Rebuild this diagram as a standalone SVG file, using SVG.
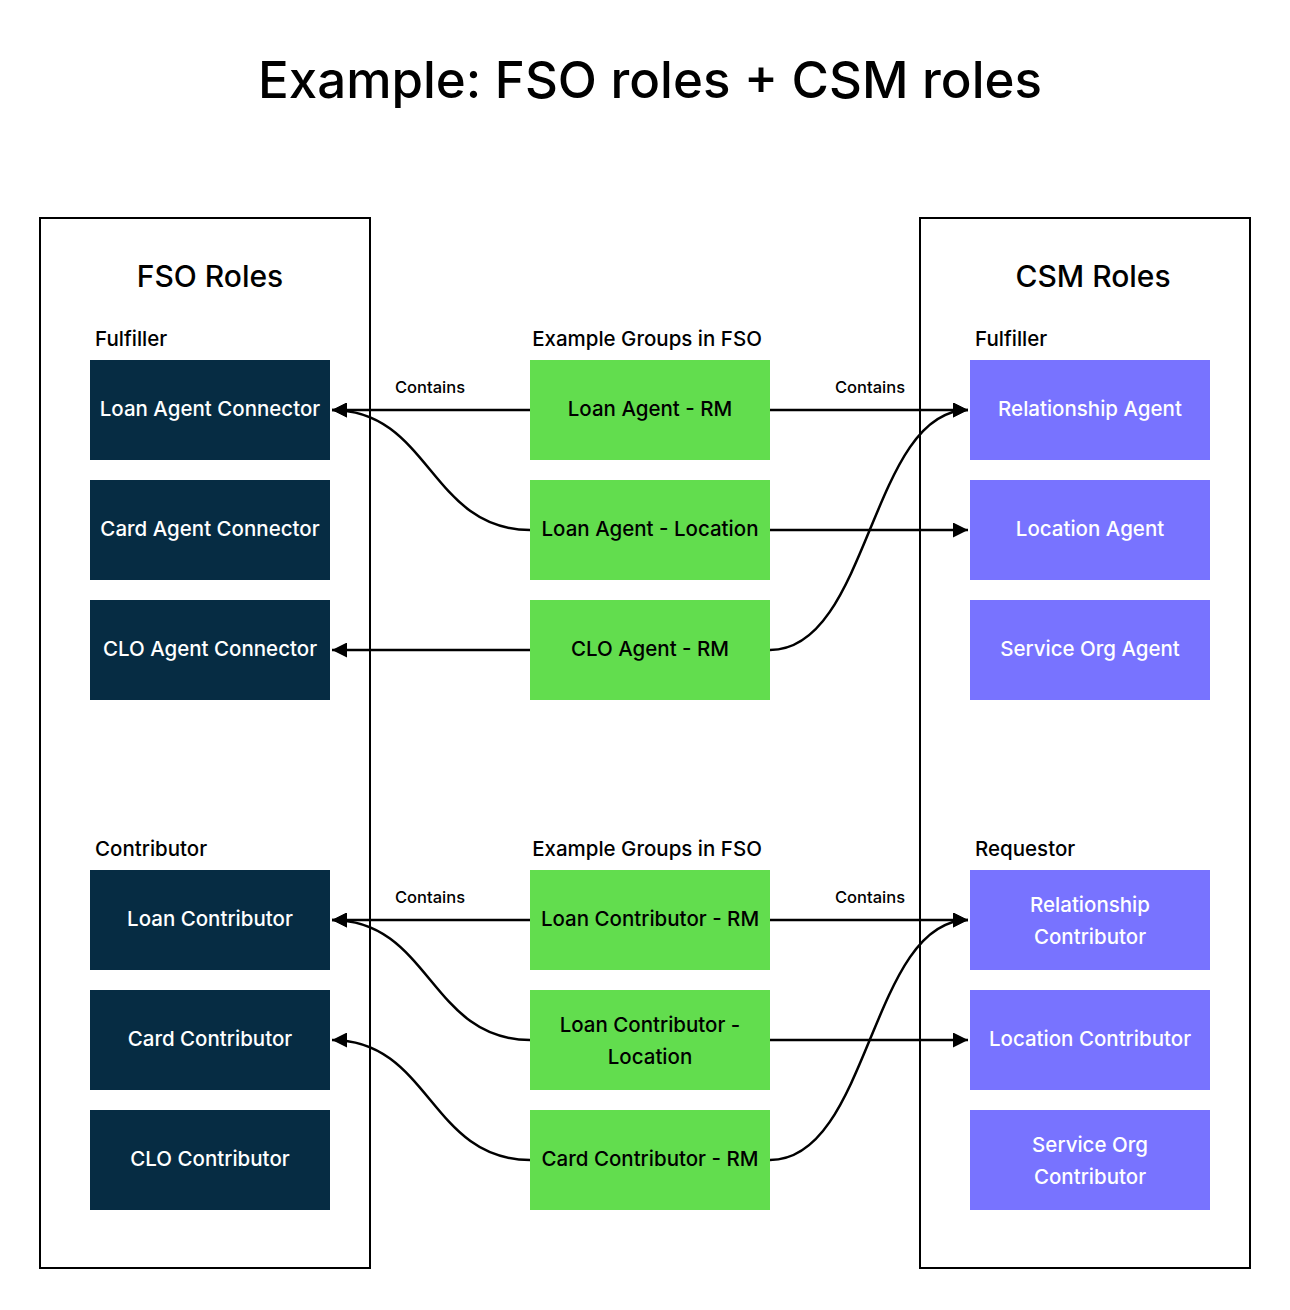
<svg xmlns="http://www.w3.org/2000/svg" width="1290" height="1310" viewBox="0 0 1290 1310">
<defs>
<style>
text{font-family:Inter,"Noto Sans","Liberation Sans",sans-serif;font-weight:500;}
.title{font-size:51px;fill:#000;text-anchor:middle;}
.head{font-size:30px;fill:#000;text-anchor:middle;}
.sec{font-size:20.5px;fill:#000;}
.cont{font-size:16.5px;fill:#000;text-anchor:middle;}
.lbl{font-size:20.5px;text-anchor:middle;dominant-baseline:central;}
.panel{fill:none;stroke:#000;stroke-width:2;}
.fso rect{fill:#062C43;}
.fso text{fill:#fff;}
.grp rect{fill:#62DD4E;}
.grp text{fill:#000;}
.csm rect{fill:#7873FF;}
.csm text{fill:#fff;}
.edge{fill:none;stroke:#000;stroke-width:2.5;marker-end:url(#ah);}
</style>
<marker id="ah" viewBox="0 0 10 10" refX="10" refY="5" markerWidth="7" markerHeight="6" markerUnits="strokeWidth" orient="auto">
<path d="M0,0 L10,5 L0,10 z" fill="#000"/>
</marker>
</defs>
<rect width="1290" height="1310" fill="#fff"/>
<text class="title" x="650" y="98">Example: FSO roles + CSM roles</text>
<rect class="panel" x="40" y="218" width="330" height="1050"/>
<rect class="panel" x="920" y="218" width="330" height="1050"/>
<text class="head" x="210" y="287">FSO Roles</text>
<text class="head" x="1093" y="287">CSM Roles</text>
<text class="sec" x="95" y="346">Fulfiller</text>
<text class="sec" x="95" y="856">Contributor</text>
<text class="sec" x="975" y="346">Fulfiller</text>
<text class="sec" x="975" y="856">Requestor</text>
<text class="sec" x="647" y="346" text-anchor="middle">Example Groups in FSO</text>
<text class="sec" x="647" y="856" text-anchor="middle">Example Groups in FSO</text>
<text class="cont" x="430" y="393">Contains</text>
<text class="cont" x="870" y="393">Contains</text>
<text class="cont" x="430" y="903">Contains</text>
<text class="cont" x="870" y="903">Contains</text>

<g id="fso-loan-agent-connector" class="fso"><rect x="90" y="360" width="240" height="100"/><text class="lbl" x="210" y="408">Loan Agent Connector</text></g>
<g id="fso-card-agent-connector" class="fso"><rect x="90" y="480" width="240" height="100"/><text class="lbl" x="210" y="528">Card Agent Connector</text></g>
<g id="fso-clo-agent-connector" class="fso"><rect x="90" y="600" width="240" height="100"/><text class="lbl" x="210" y="648">CLO Agent Connector</text></g>
<g id="fso-loan-contributor" class="fso"><rect x="90" y="870" width="240" height="100"/><text class="lbl" x="210" y="918">Loan Contributor</text></g>
<g id="fso-card-contributor" class="fso"><rect x="90" y="990" width="240" height="100"/><text class="lbl" x="210" y="1038">Card Contributor</text></g>
<g id="fso-clo-contributor" class="fso"><rect x="90" y="1110" width="240" height="100"/><text class="lbl" x="210" y="1158">CLO Contributor</text></g>

<g id="grp-loan-agent-rm" class="grp"><rect x="530" y="360" width="240" height="100"/><text class="lbl" x="650" y="408">Loan Agent - RM</text></g>
<g id="grp-loan-agent-location" class="grp"><rect x="530" y="480" width="240" height="100"/><text class="lbl" x="650" y="528">Loan Agent - Location</text></g>
<g id="grp-clo-agent-rm" class="grp"><rect x="530" y="600" width="240" height="100"/><text class="lbl" x="650" y="648">CLO Agent - RM</text></g>
<g id="grp-loan-contributor-rm" class="grp"><rect x="530" y="870" width="240" height="100"/><text class="lbl" x="650" y="918">Loan Contributor - RM</text></g>
<g id="grp-loan-contributor-location" class="grp"><rect x="530" y="990" width="240" height="100"/><text class="lbl" x="650" y="1024">Loan Contributor -</text><text class="lbl" x="650" y="1056">Location</text></g>
<g id="grp-card-contributor-rm" class="grp"><rect x="530" y="1110" width="240" height="100"/><text class="lbl" x="650" y="1158">Card Contributor - RM</text></g>

<g id="csm-relationship-agent" class="csm"><rect x="970" y="360" width="240" height="100"/><text class="lbl" x="1090" y="408">Relationship Agent</text></g>
<g id="csm-location-agent" class="csm"><rect x="970" y="480" width="240" height="100"/><text class="lbl" x="1090" y="528">Location Agent</text></g>
<g id="csm-service-org-agent" class="csm"><rect x="970" y="600" width="240" height="100"/><text class="lbl" x="1090" y="648">Service Org Agent</text></g>
<g id="csm-relationship-contributor" class="csm"><rect x="970" y="870" width="240" height="100"/><text class="lbl" x="1090" y="904">Relationship</text><text class="lbl" x="1090" y="936">Contributor</text></g>
<g id="csm-location-contributor" class="csm"><rect x="970" y="990" width="240" height="100"/><text class="lbl" x="1090" y="1038">Location Contributor</text></g>
<g id="csm-service-org-contributor" class="csm"><rect x="970" y="1110" width="240" height="100"/><text class="lbl" x="1090" y="1144">Service Org</text><text class="lbl" x="1090" y="1176">Contributor</text></g>

<g id="connectors">
<path class="edge" d="M530,410 L332,410"/>
<path class="edge" d="M530,530 C430,530 430,410 332,410"/>
<path class="edge" d="M530,650 L332,650"/>
<path class="edge" d="M770,410 L968,410"/>
<path class="edge" d="M770,530 L968,530"/>
<path class="edge" d="M770,650 C870,650 870,410 968,410"/>
<path class="edge" d="M530,920 L332,920"/>
<path class="edge" d="M530,1040 C430,1040 430,920 332,920"/>
<path class="edge" d="M530,1160 C430,1160 430,1040 332,1040"/>
<path class="edge" d="M770,920 L968,920"/>
<path class="edge" d="M770,1040 L968,1040"/>
<path class="edge" d="M770,1160 C870,1160 870,920 968,920"/>
</g>
</svg>
